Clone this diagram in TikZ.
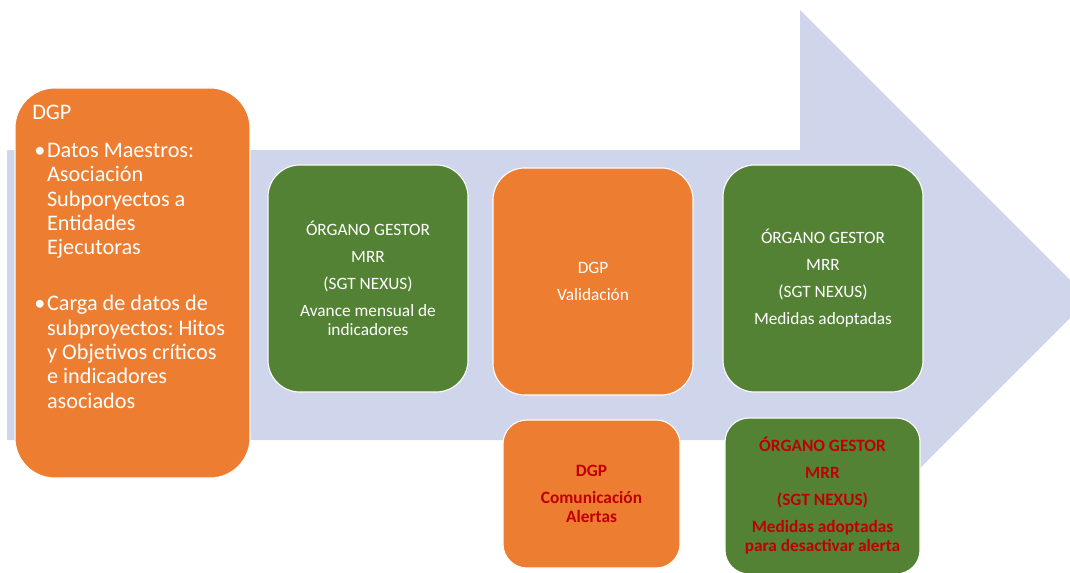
\documentclass[tikz,border=0pt]{standalone}
\usepackage{fontspec}
\setmainfont{Carlito}
\usepackage{xcolor}
\usepackage{tikz}

\definecolor{flecha}{HTML}{CFD5EA}
\definecolor{naranja}{HTML}{ED7D31}
\definecolor{verde}{HTML}{548235}
\definecolor{rojo}{HTML}{C00000}

\frenchspacing
\newcommand{\vineta}{\hspace*{1.5pt}\makebox[9pt][l]{\textbullet}}
\newcommand{\sangria}{\hspace*{10.5pt}}

\begin{document}
\begin{tikzpicture}[x=0.025cm, y=-0.025cm,
    box/.style={draw=white, line width=0.8pt, rounded corners=0.8cm, minimum width=5cm, minimum height=5.675cm, align=center, text=white, font=\fontsize{12.3}{13.5}\selectfont},
    dgp/.style={box, fill=naranja},
    mrr/.style={box, fill=verde},
    low/.style={rounded corners=0.6cm},
    alerta/.style={text=rojo, font=\fontsize{12.3}{13.5}\selectfont\bfseries}
]
\clip (0,0) rectangle (1070,572);
\fill[flecha] (7,150) -- (800,150) -- (800,10) -- (1089,299) -- (800,588) -- (800,440) -- (7,440) -- cycle;

\node[dgp, rounded corners=1cm, minimum width=5.875cm, minimum height=9.75cm] (carga) at (132.5,283) {};
\node[anchor=north west, align=left, text=white, inner sep=0pt, font=\fontsize{15.8}{17.3}\selectfont] (cargatxt) at (32,105) {%
    DGP\\[9.7pt]
    \vineta Datos Maestros:\\
    \sangria Asociación\\
    \sangria Subporyectos a\\
    \sangria Entidades\\
    \sangria Ejecutoras\\[22.5pt]
    \vineta Carga de datos de\\
    \sangria subproyectos: Hitos\\
    \sangria y Objetivos críticos\\
    \sangria e indicadores\\
    \sangria asociados};

\node[mrr] (avance) at (368,278.5) {ÓRGANO GESTOR\\[5.7pt] MRR\\[5.7pt] (SGT NEXUS)\\[5.7pt] Avance mensual de\\ indicadores};
\node[dgp] (valida) at (593,281.5) {DGP\\[5.7pt] Validación};
\node[mrr] (medidas) at (823,278.5) {ÓRGANO GESTOR\\[5.7pt] MRR\\[5.7pt] (SGT NEXUS)\\[5.7pt] Medidas adoptadas};

\node[dgp, low, alerta, minimum width=4.425cm, minimum height=3.7cm] (comunica) at (591.5,494) {DGP\\[5.7pt] Comunicación\\ Alertas};
\node[mrr, low, alerta, minimum width=4.875cm, minimum height=3.9cm] (desactiva) at (822.5,496) {ÓRGANO GESTOR\\[5.7pt] MRR\\[5.7pt] (SGT NEXUS)\\[5.7pt] Medidas adoptadas\\ para desactivar alerta};
\end{tikzpicture}
\end{document}
